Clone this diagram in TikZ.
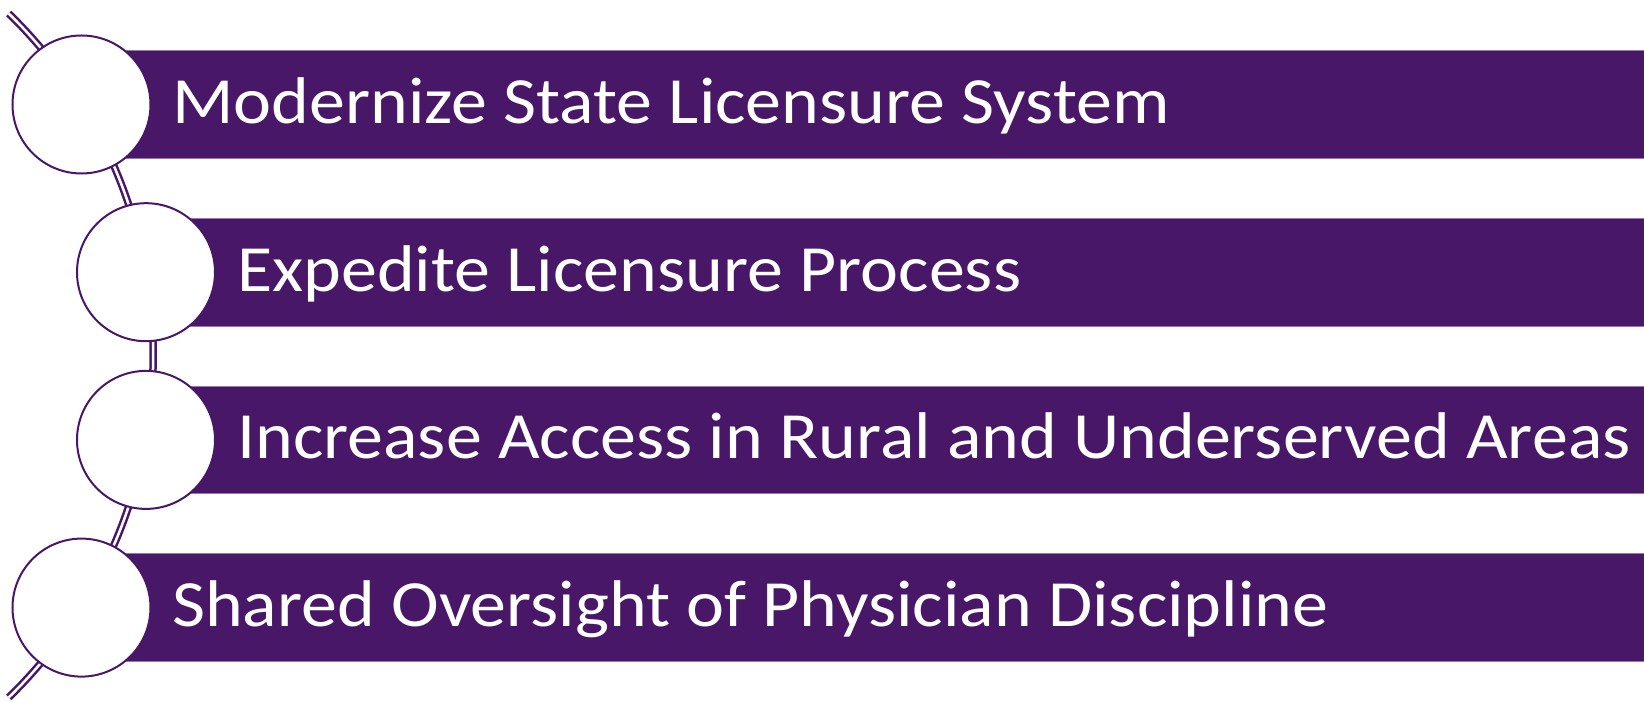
\documentclass[tikz,border=0pt]{standalone}
\usepackage{fontspec}
\usetikzlibrary{calc}
\setmainfont{Carlito}
\newfontfamily\barfont[FakeStretch=1.09]{Carlito}
\definecolor{barpurple}{RGB}{72,23,104}
\definecolor{baredge}{RGB}{150,120,170}
\begin{document}
\begin{tikzpicture}[x=1pt,y=1pt,
  bar/.style={fill=barpurple,draw=baredge,line width=0.8pt},
  disc/.style={circle,draw=barpurple,fill=white,line width=2pt,minimum size=138pt,inner sep=0pt},
  label/.style={anchor=base west,inner sep=0pt,text=white,font=\barfont\fontsize{66}{70}\selectfont},
  link/.style={draw=barpurple,line width=2.5pt,double=white,double distance=2.5pt}]
\useasboundingbox (0,0) rectangle (1644,703);
% bars (y measured from top: centres 104.5, 272.2, 439.9, 607.6)
\foreach \i/\cx/\cy in {1/81.5/598.5, 2/146/430.8, 3/146/263.1, 4/81.5/95.4}{
  \path[bar] (\cx,\cy-53.75) rectangle (1650,\cy+53.75);
}
% connecting arc
\coordinate (arcc) at (-323.8,347.5);
\draw[link] ($(arcc)+(-45.8:477)$) arc[start angle=-45.8,end angle=45.8,radius=477];
% circles
\node[disc] (c1) at (81.5,598.5) {};
\node[disc] (c2) at (146,430.8) {};
\node[disc] (c3) at (146,263.1) {};
\node[disc] (c4) at (81.5,95.4) {};
% labels
\node[label] (t1) at (172,598.5-19) {Modernize State Licensure System};
\node[label] (t2) at (237,430.8-19) {Expedite Licensure Process};
\node[label] (t3) at (237,263.1-19) {Increase Access in Rural and Underserved Areas};
\node[label] (t4) at (172,95.4-19) {Shared Oversight of Physician Discipline};
\end{tikzpicture}
\end{document}
